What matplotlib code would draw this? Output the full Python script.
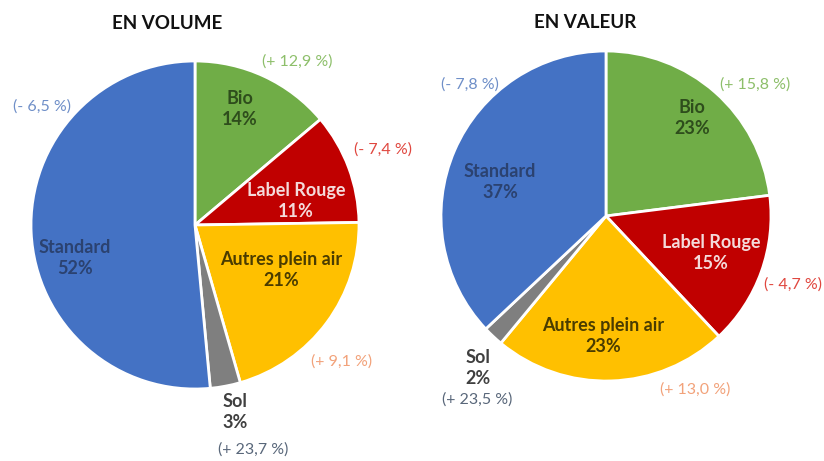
import matplotlib.pyplot as plt

# data
categories = ["Bio", "Label Rouge", "Autres plein air", "Sol", "Standard"]
volume_share = [14, 11, 21, 3, 52]
value_share = [23, 15, 23, 2, 37]
volume_change = ["(+ 12,9 %)", "(- 7,4 %)", "(+ 9,1 %)", "(+ 23,7 %)", "(- 6,5 %)"]
value_change = ["(+ 15,8 %)", "(- 4,7 %)", "(+ 13,0 %)", "(+ 23,5 %)", "(- 7,8 %)"]
titles = ["EN VOLUME", "EN VALEUR"]

# styles
colors = ["#70AD47", "#C00000", "#FFC000", "#7F7F7F", "#4472C4"]
label_colors = ["#2E4D1C", "#F4DADA", "#4A3C00", "#404040", "#2B4270"]
change_colors = ["#8DBF6A", "#E0473F", "#F2A27A", "#59677A", "#6F8FC8"]

W, H = 824, 461
plt.rcParams['font.family'] = ['Lato', 'DejaVu Sans']

fig = plt.figure(figsize=(W / 100, H / 100), dpi=100)
ax = fig.add_axes([0, 0, 1, 1])

# pie geometry in pixels (y measured from top)
pies = [
    {"center": (195, 225), "r": 164, "title_xy": (167, 24),
     "lab": [(240, 109), (296, 201), (281, 270), (235, 412), (75, 258)],
     "chg": [(297, 62), (383, 150), (342, 362), (253, 450), (42, 107)]},
    {"center": (606, 216), "r": 165, "title_xy": (585, 23),
     "lab": [(692, 118), (711, 253), (603, 336), (478, 368), (500, 182)],
     "chg": [(755, 85), (793, 285), (695, 390), (477, 400), (470, 85)]},
]


def fy(y):
    return H - y


for p, shares, changes, title in zip(pies, [volume_share, value_share],
                                      [volume_change, value_change], titles):
    cx, cy = p["center"]
    ax.pie(shares, colors=colors, startangle=90, counterclock=False,
           center=(cx, fy(cy)), radius=p["r"], frame=True,
           wedgeprops=dict(edgecolor="white", linewidth=2))
    tx, ty = p["title_xy"]
    ax.text(tx, fy(ty), title, ha="center", va="center", fontsize=13.5,
            fontweight="bold", color="#111111")
    for i, cat in enumerate(categories):
        lx, ly = p["lab"][i]
        ax.text(lx, fy(ly), f"{cat}\n{shares[i]}%", ha="center", va="center",
                fontsize=13, fontweight="bold", color=label_colors[i],
                linespacing=1.25)
        gx, gy = p["chg"][i]
        ax.text(gx, fy(gy), changes[i], ha="center", va="center",
                fontsize=11.5, color=change_colors[i])

ax.set_xlim(0, W)
ax.set_ylim(0, H)
ax.set_aspect("equal")
ax.axis("off")

fig.savefig("out.png", dpi=100, facecolor="white")
